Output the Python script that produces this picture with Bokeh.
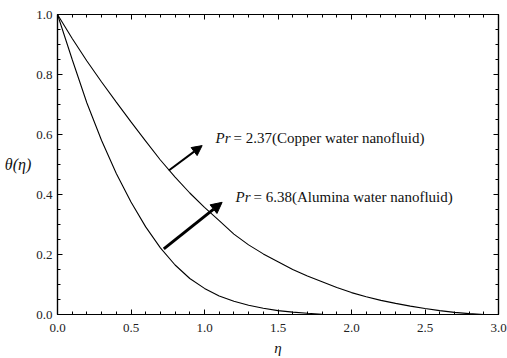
from bokeh.plotting import figure
from bokeh.models import (Range1d, SingleIntervalTicker, PrintfTickFormatter, LinearAxis,
                          Label, Arrow, NormalHead, CustomJSTickFormatter)
from bokeh.embed import file_html
from bokeh.resources import INLINE

# Pr = 2.37 (Copper water nanofluid)
eta_cu = [0, 0.1, 0.2, 0.3, 0.4, 0.5, 0.6, 0.7, 0.8, 0.9, 1.0, 1.1, 1.2, 1.3, 1.4, 1.5,
          1.6, 1.7, 1.8, 1.9, 2.0, 2.1, 2.2, 2.3, 2.4, 2.5, 2.6, 2.7, 2.8, 2.9]
theta_cu = [1.0, 0.92, 0.845, 0.775, 0.708, 0.642, 0.578, 0.515, 0.458, 0.405, 0.357, 0.313,
            0.268, 0.232, 0.202, 0.176, 0.150, 0.128, 0.109, 0.090, 0.073, 0.059, 0.047,
            0.037, 0.028, 0.020, 0.013, 0.007, 0.003, 0.0]

# Pr = 6.38 (Alumina water nanofluid)
eta_al = [0, 0.1, 0.2, 0.3, 0.4, 0.5, 0.6, 0.7, 0.8, 0.9, 1.0, 1.1, 1.2, 1.3, 1.4, 1.5,
          1.6, 1.7, 1.8, 1.9]
theta_al = [1.0, 0.85, 0.705, 0.58, 0.47, 0.375, 0.292, 0.222, 0.165, 0.12, 0.087, 0.062,
            0.044, 0.031, 0.021, 0.013, 0.008, 0.004, 0.001, 0.0]

label_pr = "Pr"
label_cu = "= 2.37(Copper water nanofluid)"
label_al = "= 6.38(Alumina water nanofluid)"
x_title = "η"
y_title = "θ(η)"

FONT = "Liberation Serif"

p = figure(width=507, height=358, output_backend="svg", toolbar_location=None,
           x_range=Range1d(0, 3), y_range=Range1d(0, 1),
           min_border_left=57, min_border_right=9, min_border_top=14, min_border_bottom=44,
           x_axis_label=x_title, y_axis_label=y_title)
p.grid.visible = False
p.outline_line_color = "black"
p.outline_line_width = 1.2
p.background_fill_color = "white"
p.border_fill_color = "white"

p.xaxis.ticker = SingleIntervalTicker(interval=0.5, num_minor_ticks=5)
p.yaxis.ticker = SingleIntervalTicker(interval=0.2, num_minor_ticks=4)
p.xaxis.formatter = PrintfTickFormatter(format="%.1f")
p.yaxis.formatter = PrintfTickFormatter(format="%.1f")

for ax in p.xaxis + p.yaxis:
    ax.major_tick_in = 5
    ax.major_tick_out = 0
    ax.minor_tick_in = 3
    ax.minor_tick_out = 0
    ax.axis_line_color = "black"
    ax.axis_line_width = 1.2
    ax.major_tick_line_color = "black"
    ax.minor_tick_line_color = "black"
    ax.major_label_text_font = FONT
    ax.major_label_text_font_size = "13px"
    ax.major_label_text_color = "#222222"
    ax.axis_label_text_font = FONT
    ax.axis_label_text_font_style = "italic"
    ax.axis_label_text_font_size = "15px"
    ax.axis_label_text_color = "#111111"

p.xaxis.major_label_standoff = 9
p.xaxis.axis_label_standoff = 5
p.yaxis.major_label_standoff = 5
p.yaxis.axis_label_standoff = 2
p.yaxis.axis_label_text_font_size = "16px"
p.yaxis.axis_label_orientation = "horizontal"

blank = CustomJSTickFormatter(code="return '';")
top = LinearAxis(ticker=SingleIntervalTicker(interval=0.5, num_minor_ticks=5), formatter=blank)
right = LinearAxis(ticker=SingleIntervalTicker(interval=0.2, num_minor_ticks=4), formatter=blank)
for ax in (top, right):
    ax.major_tick_in = 5
    ax.major_tick_out = 0
    ax.minor_tick_in = 3
    ax.minor_tick_out = 0
    ax.axis_line_color = "black"
    ax.axis_line_width = 1.2
    ax.major_label_standoff = 0
p.add_layout(top, "above")
p.add_layout(right, "right")

p.line(eta_cu, theta_cu, line_color="black", line_width=1.1)
p.line(eta_al, theta_al, line_color="black", line_width=1.1)

p.add_layout(Arrow(end=NormalHead(size=10, fill_color="black", line_color="black"),
                   x_start=0.757, y_start=0.48, x_end=0.984, y_end=0.563,
                   line_width=2, line_color="black"))
p.add_layout(Arrow(end=NormalHead(size=11, fill_color="black", line_color="black"),
                   x_start=0.723, y_start=0.219, x_end=1.12, y_end=0.374,
                   line_width=3, line_color="black"))

for (x, y, txt) in ((1.075, 0.587, label_cu), (1.211, 0.393, label_al)):
    p.add_layout(Label(x=x, y=y, text=label_pr, text_font=FONT, text_font_style="italic",
                       text_font_size="15px", text_baseline="middle", text_color="#111111"))
    p.add_layout(Label(x=x, y=y, x_offset=18, text=txt, text_font=FONT,
                       text_font_size="15px", text_baseline="middle", text_color="#111111"))

open("out.html", "w").write(file_html(p, INLINE))
